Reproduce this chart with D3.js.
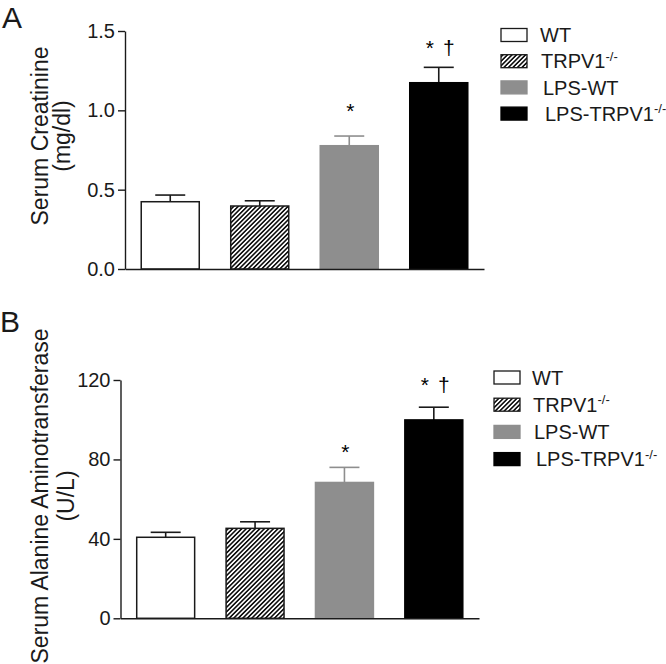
<!DOCTYPE html>
<html>
<head>
<meta charset="utf-8">
<script src="https://cdn.jsdelivr.net/npm/d3@7"></script>
<style>
  html, body { margin: 0; padding: 0; background: #fff; }
  svg { display: block; font-family: "Liberation Sans", Arial, Helvetica, sans-serif; }
</style>
</head>
<body>
<svg id="chart" width="666" height="664"></svg>
<script>
// ---------- data ----------
const groupNames = ["WT", "TRPV1", "LPS-WT", "LPS-TRPV1"];
const groupSup = ["", "-/-", "", "-/-"];
const creatinineMean = [0.424, 0.397, 0.777, 1.174];
const creatinineSEM = [0.042, 0.033, 0.061, 0.097];
const creatinineTicks = [0, 0.5, 1.0, 1.5];
const altMean = [40.8, 45.3, 68.4, 99.9];
const altSEM = [2.5, 3.3, 7.6, 6.4];
const altTicks = [0, 40, 80, 120];
const significance = ["", "", "*", "* †"];

// ---------- styles ----------
const GRAY = "#8e8e8e";
const INK = "#1a1a1a";
const fills = ["#ffffff", "url(#hatch)", GRAY, "#000000"];
const strokes = [INK, INK, GRAY, "#000000"];
const errColors = [INK, INK, GRAY, INK];

const svg = d3.select("#chart");
const defs = svg.append("defs");
defs.append("pattern")
  .attr("id", "hatch")
  .attr("patternUnits", "userSpaceOnUse")
  .attr("width", 3.2).attr("height", 3.2)
  .attr("patternTransform", "rotate(45)")
  .call(p => {
    p.append("rect").attr("width", 3.2).attr("height", 3.2).attr("fill", "#fff");
    p.append("line").attr("x1", 0.8).attr("y1", 0).attr("x2", 0.8).attr("y2", 3.2)
      .attr("stroke", "#000").attr("stroke-width", 1.5);
  });

const panels = [
  {
    letter: "A", letterPos: [2, 28],
    mean: creatinineMean, sem: creatinineSEM, ticks: creatinineTicks, fmt: d3.format(".1f"),
    domain: [0, 1.5], xRange: [125, 484], yRange: [269, 31],
    title: ["Serum Creatinine", "(mg/dl)"], titleX: [48, 70], titleY: 136,
    markGap: [0, 0, 18, 12],
    legend: { boxX: 501, textX: [540, 541, 543, 545], y0: 35, dy: 26.2 }
  },
  {
    letter: "B", letterPos: [0, 332],
    mean: altMean, sem: altSEM, ticks: altTicks, fmt: d3.format("d"),
    domain: [0, 120], xRange: [120.5, 479], yRange: [618.3, 380],
    title: ["Serum Alanine Aminotransferase", "(U/L)"], titleX: [48, 74], titleY: 496,
    markGap: [0, 0, 8, 15],
    legend: { boxX: 494, textX: [532, 533, 534, 536], y0: 377.5, dy: 27.2 }
  }
];

panels.forEach(P => {
  const g = svg.append("g");
  const x = d3.scaleBand().domain(groupNames).range(P.xRange)
    .paddingInner(0.335).paddingOuter(0.173);
  const y = d3.scaleLinear().domain(P.domain).range(P.yRange);

  // panel letter
  g.append("text").attr("x", P.letterPos[0]).attr("y", P.letterPos[1])
    .attr("font-size", 30).attr("fill", INK).text(P.letter);

  const data = groupNames.map((n, i) => ({ n, i, m: P.mean[i], s: P.sem[i] }));
  // error bars (upper only)
  const capW = 30;
  data.forEach(d => {
    const cx = x(d.n) + x.bandwidth() / 2;
    g.append("line").attr("x1", cx).attr("x2", cx).attr("y1", y(d.m)).attr("y2", y(d.m + d.s))
      .attr("stroke", errColors[d.i]).attr("stroke-width", 1.6);
    g.append("line").attr("x1", cx - capW / 2).attr("x2", cx + capW / 2)
      .attr("y1", y(d.m + d.s)).attr("y2", y(d.m + d.s))
      .attr("stroke", errColors[d.i]).attr("stroke-width", 1.6);
  });
  // bars
  g.selectAll("rect.bar").data(data).join("rect").attr("class", "bar")
    .attr("x", d => x(d.n) + 0.75)
    .attr("width", x.bandwidth() - 1.5)
    .attr("y", d => y(d.m))
    .attr("height", d => y(0) - y(d.m))
    .attr("fill", d => fills[d.i])
    .attr("stroke", d => strokes[d.i])
    .attr("stroke-width", 1.5);

  // significance marks
  data.forEach(d => {
    const parts = significance[d.i].split(" ").filter(s => s.length);
    if (!parts.length) return;
    const cx = x(d.n) + x.bandwidth() / 2;
    const base = y(d.m + d.s) - P.markGap[d.i];
    const offs = parts.length === 1 ? [1] : [-9, 10];
    parts.forEach((p, k) => {
      g.append("text").attr("x", cx + offs[k]).attr("y", base)
        .attr("text-anchor", "middle").attr("font-size", 21).attr("fill", "#000").text(p);
    });
  });

  // axes
  const yAxis = d3.axisLeft(y).tickValues(P.ticks).tickFormat(P.fmt)
    .tickSize(7).tickSizeOuter(0).tickPadding(3);
  const ya = g.append("g").attr("transform", `translate(${P.xRange[0]},0)`).call(yAxis);
  ya.selectAll("text").attr("font-size", 20).attr("fill", INK)
    .attr("font-family", "'Liberation Sans', Arial, sans-serif");
  ya.selectAll("line, path").attr("stroke", INK).attr("stroke-width", 1.4);

  const xAxis = d3.axisBottom(x).tickSize(0).tickSizeOuter(0).tickFormat("");
  const xa = g.append("g").attr("transform", `translate(0,${y(0)})`).call(xAxis);
  xa.selectAll("path").attr("stroke", INK).attr("stroke-width", 1.4);

  // axis title
  P.title.forEach((t, k) => {
    g.append("text")
      .attr("transform", `translate(${P.titleX[k]},${P.titleY}) rotate(-90)`)
      .attr("text-anchor", "middle").attr("font-size", 23).attr("fill", INK).text(t);
  });

  // legend
  const L = P.legend;
  groupNames.forEach((n, i) => {
    const cy = L.y0 + i * L.dy;
    g.append("rect").attr("x", L.boxX).attr("y", cy - 6.5).attr("width", 26).attr("height", 13)
      .attr("fill", fills[i]).attr("stroke", strokes[i]).attr("stroke-width", 1.3);
    const tx = g.append("text").attr("x", L.textX[i]).attr("y", cy + 7.2)
      .attr("font-size", 20).attr("fill", INK);
    tx.append("tspan").text(n);
    if (groupSup[i]) {
      tx.append("tspan").attr("dy", -7.5).attr("font-size", 13).text(groupSup[i]);
    }
  });
});
</script>
</body>
</html>
